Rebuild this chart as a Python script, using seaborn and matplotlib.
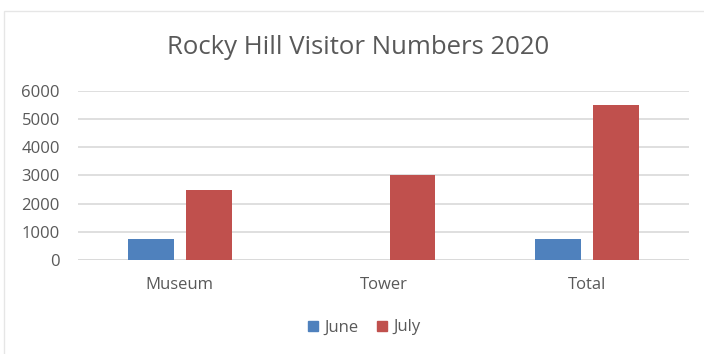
import matplotlib
matplotlib.use("Agg")
import matplotlib.pyplot as plt
from matplotlib.lines import Line2D
from matplotlib.patches import Rectangle
import pandas as pd
import seaborn as sns

# Visitor counts per site
sites = ["Museum", "Tower", "Total"]
june = [770, 0, 770]
july = [2470, 3000, 5500]
months = ["June", "July"]
yticks = [0, 1000, 2000, 3000, 4000, 5000, 6000]

df = pd.DataFrame({
    "Site": sites * 2,
    "Month": ["June"] * len(sites) + ["July"] * len(sites),
    "Visitors": june + july,
})

sns.set_theme(style="white")
plt.rcParams["font.family"] = ["Open Sans", "DejaVu Sans"]

text_col = "#595959"
grid_col = "#d9d9d9"
palette = {"June": "#4F81BD", "July": "#C0504D"}

fig = plt.figure(figsize=(7.04, 3.54), dpi=100)
ax = fig.add_axes([0.1108, 0.2647, 0.9787 - 0.1108, 0.7438 - 0.2647])

sns.barplot(data=df, x="Site", y="Visitors", hue="Month", hue_order=months,
            palette=palette, width=0.57, gap=0.21, ax=ax, legend=False,
            saturation=1, edgecolor="none")

ax.set_ylim(0, 6000)
ax.set_xlim(-0.5, 2.5)
ax.set_yticks(yticks)
ax.set_yticklabels([str(v) for v in yticks])
ax.yaxis.grid(True, color=grid_col, linewidth=1.2)
ax.set_axisbelow(True)
for s in ax.spines.values():
    s.set_visible(False)
ax.axhline(0, color=grid_col, linewidth=1.2, zorder=0)
ax.set_xlabel("")
ax.set_ylabel("")
ax.tick_params(axis="y", length=0, pad=13, labelsize=12, labelcolor=text_col)
ax.tick_params(axis="x", length=0, pad=12, labelsize=12, labelcolor=text_col)

fig.text(0.508, 0.865, "Rocky Hill Visitor Numbers 2020", ha="center", va="center",
         fontsize=18.5, color=text_col)

handles = [Line2D([0], [0], marker="s", linestyle="none", markersize=7.5,
                  markerfacecolor=palette[m], markeredgecolor=palette[m]) for m in months]
fig.legend(handles, months, loc="center", bbox_to_anchor=(0.515, 0.075), ncol=2,
           frameon=False, fontsize=12, labelcolor=text_col, handletextpad=0.2,
           columnspacing=0.9, handlelength=1.0)

# Chart area frame
fig.add_artist(Rectangle((4 / 704, -0.1), 1.2, 1 - 10.5 / 354 + 0.1,
                         transform=fig.transFigure, fill=False,
                         edgecolor="#e6e6e6", linewidth=1))

fig.savefig("out.png", dpi=100, facecolor="white")
